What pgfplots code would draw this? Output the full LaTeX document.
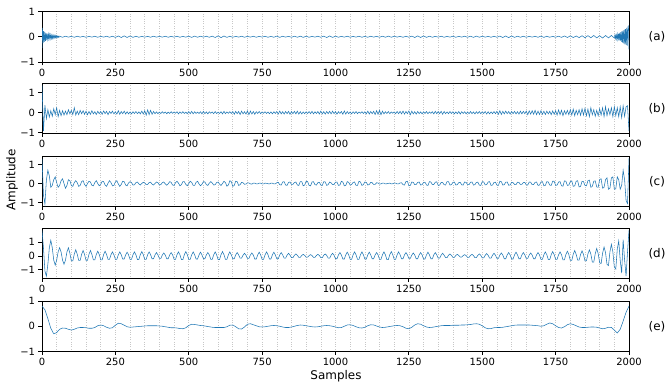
\documentclass[border=0pt]{standalone}
\usepackage{fontspec}
\setmainfont{DejaVu Sans}
\usepackage{pgfplots}
\usepackage{pgfplotstable}
\pgfplotsset{compat=1.18}
\definecolor{mplblue}{HTML}{1F77B4}

\pgfplotsset{
  sig/.style={mplblue, line width=0.55bp},
  panel/.style={
    scale only axis, width=587bp, height=50.5bp,
    xmin=0, xmax=2000,
    xtick={0,250,500,750,1000,1250,1500,1750,2000},
    xticklabels={0,250,500,750,1000,1250,1500,1750,2000},
    minor xtick={0,50,...,2000},
    xminorgrids,
    minor grid style={dotted, black!22, line width=0.6bp},
    ytick={-1,0,1}, yticklabels={−1,0,1},
    axis line style={line width=0.8bp},
    major tick style={black, line width=0.8bp},
    major tick length=3.5bp, minor tick length=0bp,
    tick align=outside, tick pos=left,
    tick label style={font=\fontsize{10}{12}\selectfont},
    no markers,
    anchor=south west,
  }
}

% ---------- panel (a) ----------
\pgfplotstableread[header=false,row sep=\\]{
-0.45\\0.35\\-0.25\\0.22\\-0.2\\0.18\\-0.16\\0.14\\-0.13\\0.12\\-0.11\\0.1\\-0.09\\0.09\\-0.08\\0.08\\-0.07\\0.07\\-0.06\\0.06\\-0.05\\0.05\\-0.05\\0.04\\-0.04\\0.04\\-0.03\\0.03\\-0.02\\0.02\\-0.02\\
}\tabAa
\pgfplotstableread[header=false,row sep=\\]{
0.02\\-0.02\\0.02\\-0.015\\0.015\\-0.02\\0.02\\-0.015\\0.015\\-0.02\\
0.015\\-0.015\\0.02\\-0.02\\0.015\\-0.015\\0.02\\-0.02\\0.02\\-0.025\\
0.03\\-0.03\\0.035\\-0.03\\0.03\\-0.025\\0.02\\-0.02\\0.015\\-0.015\\
0.015\\-0.02\\0.02\\-0.015\\0.015\\-0.015\\0.02\\-0.02\\0.015\\-0.015\\
0.02\\-0.02\\0.015\\-0.015\\0.02\\-0.025\\0.025\\-0.02\\0.02\\-0.015\\
0.02\\-0.02\\0.025\\-0.03\\0.035\\-0.035\\0.03\\-0.025\\0.02\\-0.02\\
0.015\\-0.015\\0.02\\-0.02\\0.015\\-0.015\\0.02\\-0.02\\0.015\\-0.015\\
0.02\\-0.02\\0.015\\-0.02\\0.025\\-0.025\\0.02\\-0.015\\0.015\\-0.02\\
0.02\\-0.02\\0.025\\-0.025\\0.02\\-0.02\\0.015\\-0.015\\0.02\\-0.02\\
0.025\\-0.03\\0.03\\-0.025\\0.02\\-0.02\\0.015\\-0.015\\0.02\\-0.02\\
0.015\\-0.015\\0.02\\-0.02\\0.015\\-0.02\\0.02\\-0.015\\0.015\\-0.02\\
0.02\\-0.02\\0.025\\-0.02\\0.02\\-0.015\\0.015\\-0.02\\0.02\\-0.02\\
0.025\\-0.03\\0.035\\-0.03\\0.03\\-0.025\\0.02\\-0.02\\0.015\\-0.015\\
0.02\\-0.02\\0.015\\-0.015\\0.02\\-0.02\\0.015\\-0.015\\0.02\\-0.02\\
0.02\\-0.025\\0.025\\-0.02\\0.02\\-0.015\\0.015\\-0.02\\0.02\\-0.02\\
0.025\\-0.03\\0.03\\-0.035\\0.03\\-0.025\\0.02\\-0.02\\0.02\\-0.02\\
0.015\\-0.015\\0.02\\-0.02\\0.025\\-0.025\\0.02\\-0.02\\0.015\\-0.02\\
0.02\\-0.025\\0.03\\-0.03\\0.035\\-0.03\\0.03\\-0.035\\0.04\\-0.04\\
0.045\\-0.04\\0.05\\-0.045\\0.04\\-0.05\\0.05\\-0.045\\0.05\\-0.05\\
}\tabAb
\pgfplotstableread[header=false,row sep=\\]{
-0.05\\0.06\\-0.07\\0.08\\-0.09\\0.1\\-0.11\\0.12\\-0.13\\0.15\\-0.16\\0.18\\-0.2\\0.22\\-0.23\\0.25\\-0.26\\0.28\\-0.3\\0.3\\-0.32\\0.35\\-0.35\\0.38\\0.42\\-0.5\\
}\tabAc

% ---------- panel (b) ----------
\pgfplotstableread[header=false,row sep=\\]{
1.38\\-0.93\\0.38\\-0.3\\0.15\\-0.22\\0.1\\-0.18\\0.2\\-0.1\\
0.25\\-0.2\\0.12\\-0.15\\0.1\\-0.12\\0.08\\-0.1\\0.15\\-0.06\\
0.12\\-0.1\\0.25\\-0.12\\0.08\\-0.1\\0.12\\-0.05\\0.1\\-0.08\\
0.08\\-0.1\\0.06\\-0.08\\0.1\\-0.06\\0.05\\-0.09\\0.07\\-0.05\\
0.06\\-0.08\\0.09\\-0.05\\0.07\\-0.1\\0.06\\-0.04\\0.08\\-0.06\\
0.05\\-0.07\\0.1\\-0.08\\0.06\\-0.05\\0.08\\-0.07\\0.05\\-0.06\\
0.04\\-0.06\\0.05\\-0.04\\0.06\\-0.05\\0.04\\-0.06\\0.08\\-0.07\\
0.1\\-0.12\\0.14\\-0.1\\0.12\\-0.08\\0.06\\-0.05\\0.04\\-0.05\\
0.03\\-0.04\\0.05\\-0.03\\0.04\\-0.05\\0.03\\-0.04\\0.05\\-0.03\\
0.04\\-0.03\\0.05\\-0.06\\0.04\\-0.03\\0.05\\-0.04\\0.03\\-0.05\\
0.06\\-0.05\\0.07\\-0.06\\0.05\\-0.04\\0.03\\-0.04\\0.05\\-0.06\\
0.07\\-0.05\\0.04\\-0.06\\0.05\\-0.03\\0.04\\-0.05\\0.06\\-0.04\\
0.03\\-0.04\\0.05\\-0.06\\0.07\\-0.05\\0.04\\-0.03\\0.05\\-0.04\\
0.06\\-0.08\\0.07\\-0.05\\0.06\\-0.09\\0.08\\-0.06\\0.05\\-0.07\\
0.09\\-0.1\\0.08\\-0.07\\0.06\\-0.08\\0.05\\-0.04\\0.06\\-0.05\\
0.04\\-0.03\\0.05\\-0.04\\0.03\\-0.05\\0.04\\-0.06\\0.05\\-0.04\\
0.06\\-0.07\\0.08\\-0.06\\0.05\\-0.07\\0.06\\-0.05\\0.07\\-0.08\\
0.06\\-0.05\\0.07\\-0.06\\0.08\\-0.07\\0.05\\-0.06\\0.04\\-0.05\\
0.05\\-0.04\\0.06\\-0.05\\0.07\\-0.06\\0.05\\-0.04\\0.06\\-0.07\\
0.08\\-0.06\\0.05\\-0.07\\0.06\\-0.05\\0.07\\-0.06\\0.08\\-0.05\\
0.06\\-0.07\\0.05\\-0.04\\0.06\\-0.08\\0.09\\-0.07\\0.06\\-0.05\\
0.04\\-0.06\\0.05\\-0.04\\0.06\\-0.05\\0.04\\-0.03\\0.05\\-0.04\\
0.05\\-0.06\\0.08\\-0.07\\0.06\\-0.05\\0.07\\-0.09\\0.1\\-0.08\\
0.12\\-0.1\\0.08\\-0.06\\0.05\\-0.04\\0.06\\-0.05\\0.04\\-0.03\\
0.04\\-0.05\\0.06\\-0.05\\0.07\\-0.06\\0.08\\-0.07\\0.06\\-0.05\\
0.09\\-0.1\\0.08\\-0.06\\0.05\\-0.07\\0.06\\-0.05\\0.04\\-0.06\\
0.05\\-0.04\\0.06\\-0.05\\0.04\\-0.03\\0.05\\-0.06\\0.07\\-0.05\\
0.06\\-0.05\\0.07\\-0.08\\0.06\\-0.05\\0.04\\-0.05\\0.06\\-0.04\\
0.05\\-0.06\\0.04\\-0.05\\0.06\\-0.07\\0.05\\-0.04\\0.05\\-0.06\\
0.04\\-0.05\\0.06\\-0.05\\0.04\\-0.06\\0.05\\-0.04\\0.06\\-0.05\\
0.05\\-0.04\\0.06\\-0.07\\0.05\\-0.06\\0.04\\-0.05\\0.06\\-0.05\\
0.07\\-0.08\\0.1\\-0.09\\0.07\\-0.06\\0.08\\-0.05\\0.06\\-0.07\\
0.06\\-0.05\\0.07\\-0.06\\0.05\\-0.07\\0.08\\-0.06\\0.07\\-0.05\\
0.08\\-0.1\\0.09\\-0.07\\0.1\\-0.08\\0.12\\-0.1\\0.08\\-0.09\\
0.1\\-0.08\\0.07\\-0.09\\0.08\\-0.06\\0.07\\-0.1\\0.09\\-0.08\\
0.1\\-0.12\\0.14\\-0.1\\0.12\\-0.15\\0.1\\-0.08\\0.12\\-0.1\\
0.15\\-0.12\\0.18\\-0.15\\0.12\\-0.1\\0.15\\-0.13\\0.2\\-0.12\\
0.22\\-0.15\\0.18\\-0.2\\0.25\\-0.1\\0.15\\-0.18\\0.12\\-0.15\\
0.2\\-0.12\\0.25\\-0.2\\0.3\\-0.15\\0.2\\-0.1\\0.25\\-0.2\\
0.3\\-0.15\\0.25\\-0.2\\0.3\\-0.25\\0.35\\-0.18\\0.3\\0.35\\
-0.93\\
}\tabB

% ---------- panel (c) ----------
\pgfplotstableread[header=false,row sep=\\]{
1.3\\-0.6\\-1.09\\0.2\\0.7\\0.4\\-0.2\\-0.1\\0.2\\0.35\\0.05\\-0.2\\-0.1\\0.15\\0.25\\0.0\\-0.25\\-0.1\\0.2\\0.15\\
-0.1\\-0.15\\0.05\\0.15\\0.05\\-0.15\\-0.1\\0.1\\0.15\\-0.05\\-0.15\\0.0\\0.12\\0.08\\-0.1\\-0.12\\0.05\\0.15\\0.0\\-0.12\\
-0.05\\0.12\\0.1\\-0.08\\-0.15\\0.02\\0.15\\0.05\\-0.12\\-0.1\\0.08\\0.15\\-0.02\\-0.15\\-0.05\\0.12\\0.1\\-0.08\\-0.12\\0.03\\
0.1\\0.05\\-0.08\\-0.07\\0.05\\0.08\\-0.02\\-0.08\\0.0\\0.07\\0.03\\-0.06\\-0.05\\0.05\\0.07\\-0.03\\-0.08\\0.0\\0.08\\0.04\\
-0.07\\-0.06\\0.05\\0.08\\-0.02\\-0.09\\-0.02\\0.1\\0.06\\-0.08\\-0.1\\0.04\\0.12\\0.02\\-0.12\\-0.06\\0.1\\0.1\\-0.05\\-0.12\\
0.0\\0.12\\0.06\\-0.1\\-0.1\\0.06\\0.12\\-0.02\\-0.12\\-0.04\\0.1\\0.08\\-0.06\\-0.1\\0.02\\0.1\\0.03\\-0.08\\-0.06\\0.05\\
0.08\\-0.03\\-0.1\\0.0\\0.12\\0.05\\-0.14\\-0.08\\0.15\\0.1\\-0.15\\-0.1\\0.12\\0.1\\-0.1\\-0.06\\0.06\\0.04\\-0.04\\-0.03\\
0.03\\0.03\\-0.02\\-0.03\\0.02\\0.02\\-0.02\\-0.02\\0.02\\0.02\\-0.02\\-0.02\\0.02\\0.01\\-0.01\\-0.02\\0.02\\0.02\\-0.02\\-0.02\\
0.04\\0.06\\-0.06\\-0.08\\0.08\\0.1\\-0.08\\-0.1\\0.06\\0.08\\-0.05\\-0.04\\0.05\\0.08\\-0.08\\-0.1\\0.1\\0.1\\-0.12\\-0.08\\
0.12\\0.1\\-0.1\\-0.12\\0.08\\0.1\\-0.06\\-0.08\\0.05\\0.06\\-0.08\\-0.1\\0.1\\0.08\\-0.1\\-0.06\\0.08\\0.04\\-0.06\\-0.05\\
0.07\\0.08\\-0.1\\-0.08\\0.12\\0.08\\-0.12\\-0.1\\0.1\\0.06\\-0.08\\-0.05\\0.06\\0.08\\-0.1\\-0.1\\0.12\\0.08\\-0.1\\-0.06\\
0.08\\0.06\\-0.08\\-0.05\\0.06\\0.04\\-0.05\\-0.04\\0.04\\0.03\\-0.03\\-0.02\\0.02\\0.02\\-0.02\\-0.01\\0.01\\0.02\\-0.02\\-0.01\\
0.02\\0.02\\-0.02\\-0.02\\0.03\\0.04\\-0.06\\-0.08\\0.1\\0.12\\-0.12\\-0.1\\0.08\\0.06\\-0.06\\-0.05\\0.06\\0.08\\-0.08\\-0.06\\
0.05\\0.07\\-0.08\\-0.1\\0.1\\0.08\\-0.06\\-0.05\\0.07\\0.09\\-0.1\\-0.08\\0.06\\0.05\\-0.06\\-0.08\\0.1\\0.1\\-0.08\\-0.06\\
0.06\\0.08\\-0.08\\-0.06\\0.05\\0.06\\-0.07\\-0.08\\0.08\\0.06\\-0.05\\-0.06\\0.07\\0.08\\-0.08\\-0.06\\0.06\\0.07\\-0.08\\-0.1\\
0.1\\0.08\\-0.07\\-0.06\\0.08\\0.1\\-0.1\\-0.08\\0.06\\0.07\\-0.08\\-0.1\\0.12\\0.1\\-0.08\\-0.06\\0.07\\0.08\\-0.09\\-0.08\\
0.06\\0.05\\-0.05\\-0.06\\0.07\\0.06\\-0.05\\-0.04\\0.05\\0.06\\-0.07\\-0.08\\0.08\\0.07\\-0.06\\-0.05\\0.06\\0.08\\-0.1\\-0.08\\
0.08\\0.1\\-0.12\\-0.1\\0.1\\0.08\\-0.08\\-0.1\\0.12\\0.12\\-0.1\\-0.08\\0.08\\0.1\\-0.12\\-0.14\\0.14\\0.12\\-0.1\\-0.08\\
0.1\\0.14\\-0.15\\-0.12\\0.12\\0.15\\-0.18\\-0.15\\0.12\\0.1\\-0.1\\-0.12\\0.15\\0.18\\-0.2\\-0.15\\0.12\\0.14\\-0.18\\-0.2\\
0.22\\0.25\\-0.25\\-0.2\\0.2\\0.3\\-0.3\\-0.25\\0.3\\0.35\\-0.3\\-0.28\\0.35\\0.2\\-0.3\\-0.1\\0.7\\0.2\\-0.9\\-1.05\\
1.33\\
}\tabC

% ---------- panel (d) ----------
\pgfplotstableread[header=false,row sep=\\]{
1.87\\0.6\\-1.1\\-1.47\\-0.6\\0.6\\1.15\\0.6\\-0.3\\-0.67\\-0.3\\0.3\\0.6\\0.3\\-0.3\\-0.6\\-0.3\\0.3\\0.6\\0.2\\
-0.36\\-0.36\\0.14\\0.45\\0.14\\ -0.32\\-0.32\\0.12\\0.4\\0.12\\ -0.32\\-0.32\\0.12\\0.4\\0.12\\
-0.28\\-0.28\\0.11\\0.35\\0.11\\ -0.28\\-0.28\\0.11\\0.35\\0.11\\ -0.24\\-0.24\\0.09\\0.3\\0.09\\
-0.24\\-0.24\\0.09\\0.3\\0.09\\ -0.22\\-0.22\\0.08\\0.28\\0.08\\ -0.24\\-0.24\\0.09\\0.3\\0.09\\
-0.26\\-0.26\\0.1\\0.32\\0.1\\ -0.24\\-0.24\\0.09\\0.3\\0.09\\ -0.2\\-0.2\\0.08\\0.25\\0.08\\
-0.18\\-0.18\\0.07\\0.22\\0.07\\ -0.2\\-0.2\\0.08\\0.25\\0.08\\ -0.24\\-0.24\\0.09\\0.3\\0.09\\
-0.26\\-0.26\\0.1\\0.32\\0.1\\
-0.24\\-0.24\\0.09\\0.3\\0.09\\ -0.22\\-0.22\\0.08\\0.28\\0.08\\ -0.2\\-0.2\\0.08\\0.25\\0.08\\
-0.24\\-0.24\\0.09\\0.3\\0.09\\ -0.26\\-0.26\\0.1\\0.32\\0.1\\ -0.24\\-0.24\\0.09\\0.3\\0.09\\
-0.2\\-0.2\\0.08\\0.25\\0.08\\ -0.16\\-0.16\\0.06\\0.2\\0.06\\ -0.18\\-0.18\\0.07\\0.22\\0.07\\
-0.22\\-0.22\\0.08\\0.28\\0.08\\
-0.24\\-0.24\\0.09\\0.3\\0.09\\ -0.22\\-0.22\\0.08\\0.28\\0.08\\ -0.2\\-0.2\\0.08\\0.25\\0.08\\
-0.16\\-0.16\\0.06\\0.2\\0.06\\ -0.12\\-0.12\\0.05\\0.15\\0.05\\ -0.1\\-0.1\\0.04\\0.12\\0.04\\
-0.08\\-0.08\\0.03\\0.1\\0.03\\ -0.1\\-0.1\\0.04\\0.12\\0.04\\ -0.12\\-0.12\\0.05\\0.15\\0.05\\
-0.16\\-0.16\\0.06\\0.2\\0.06\\
-0.2\\-0.2\\0.08\\0.25\\0.08\\ -0.22\\-0.22\\0.08\\0.28\\0.08\\ -0.24\\-0.24\\0.09\\0.3\\0.09\\
-0.24\\-0.24\\0.09\\0.3\\0.09\\ -0.22\\-0.22\\0.08\\0.28\\0.08\\ -0.2\\-0.2\\0.08\\0.25\\0.08\\
-0.24\\-0.24\\0.09\\0.3\\0.09\\ -0.26\\-0.26\\0.1\\0.32\\0.1\\ -0.24\\-0.24\\0.09\\0.3\\0.09\\
-0.2\\-0.2\\0.08\\0.25\\0.08\\
-0.18\\-0.18\\0.07\\0.22\\0.07\\ -0.2\\-0.2\\0.08\\0.25\\0.08\\ -0.22\\-0.22\\0.08\\0.28\\0.08\\
-0.2\\-0.2\\0.08\\0.25\\0.08\\ -0.16\\-0.16\\0.06\\0.2\\0.06\\ -0.12\\-0.12\\0.05\\0.15\\0.05\\
-0.1\\-0.1\\0.04\\0.12\\0.04\\ -0.08\\-0.08\\0.03\\0.1\\0.03\\ -0.1\\-0.1\\0.04\\0.12\\0.04\\
-0.12\\-0.12\\0.05\\0.15\\0.05\\
-0.14\\-0.14\\0.05\\0.18\\0.05\\ -0.16\\-0.16\\0.06\\0.2\\0.06\\ -0.18\\-0.18\\0.07\\0.22\\0.07\\
-0.2\\-0.2\\0.08\\0.25\\0.08\\ -0.22\\-0.22\\0.08\\0.28\\0.08\\ -0.2\\-0.2\\0.08\\0.25\\0.08\\
-0.18\\-0.18\\0.07\\0.22\\0.07\\ -0.2\\-0.2\\0.08\\0.25\\0.08\\ -0.24\\-0.24\\0.09\\0.3\\0.09\\
-0.26\\-0.26\\0.1\\0.32\\0.1\\
-0.24\\-0.24\\0.09\\0.3\\0.09\\ -0.28\\-0.28\\0.11\\0.35\\0.11\\ -0.32\\-0.32\\0.12\\0.4\\0.12\\
-0.3\\-0.3\\0.11\\0.38\\0.11\\ -0.36\\-0.36\\0.14\\0.45\\0.14\\ -0.44\\-0.44\\0.17\\0.55\\0.17\\
-0.5\\-0.55\\0.2\\0.65\\0.25\\-0.6\\-0.7\\0.3\\0.85\\0.3\\-0.8\\-0.95\\0.5\\1.1\\-0.3\\-1.25\\1.2\\-0.3\\-1.47\\0.3\\
1.87\\
}\tabD

% ---------- panel (e) ----------
\pgfplotstableread[header=false,row sep=\\]{
0.8\\0.65\\0.3\\-0.08\\-0.3\\-0.25\\-0.12\\-0.07\\-0.08\\-0.12\\
-0.15\\-0.12\\-0.07\\-0.05\\-0.05\\-0.06\\-0.08\\-0.08\\-0.05\\0.02\\
0.05\\0.02\\-0.04\\-0.08\\-0.06\\0.04\\0.12\\0.1\\0.04\\-0.02\\
-0.04\\-0.03\\-0.02\\-0.01\\0.0\\0.01\\0.02\\0.02\\0.02\\0.02\\
0.01\\0.0\\-0.02\\-0.04\\-0.06\\-0.06\\-0.07\\-0.09\\-0.1\\-0.06\\
0.03\\0.08\\0.07\\0.05\\0.03\\0.02\\0.0\\-0.02\\-0.04\\-0.05\\
-0.05\\-0.05\\-0.05\\-0.02\\0.04\\0.05\\-0.02\\-0.1\\-0.11\\-0.03\\
0.08\\0.1\\0.06\\0.02\\-0.02\\-0.03\\-0.02\\0.0\\0.02\\0.03\\
0.02\\0.0\\-0.03\\-0.05\\-0.05\\-0.03\\0.0\\0.03\\0.05\\0.04\\
0.02\\0.0\\-0.02\\-0.03\\-0.02\\0.0\\0.02\\0.03\\0.02\\0.0\\
-0.03\\-0.06\\-0.05\\0.0\\0.05\\0.06\\0.03\\-0.02\\-0.06\\-0.07\\
-0.04\\0.02\\0.06\\0.05\\0.01\\-0.03\\-0.05\\-0.04\\-0.02\\0.0\\
0.02\\0.03\\0.02\\-0.02\\-0.08\\-0.1\\-0.04\\0.05\\0.1\\0.08\\
0.02\\-0.03\\-0.05\\-0.04\\-0.02\\0.0\\0.02\\0.03\\0.03\\0.03\\
0.04\\0.04\\0.04\\0.05\\0.05\\0.06\\0.07\\0.09\\0.1\\0.08\\
0.02\\-0.06\\-0.1\\-0.09\\-0.06\\-0.05\\-0.05\\-0.04\\-0.02\\0.0\\
0.02\\0.04\\0.05\\0.05\\0.05\\0.05\\0.05\\0.04\\0.03\\0.02\\
0.0\\0.02\\0.08\\0.13\\0.1\\0.02\\-0.05\\-0.07\\-0.02\\0.06\\
0.1\\0.07\\0.02\\-0.03\\-0.05\\-0.05\\-0.04\\-0.03\\-0.03\\-0.04\\
-0.07\\-0.1\\-0.08\\-0.04\\-0.05\\-0.15\\-0.27\\-0.12\\0.2\\0.55\\
0.8\\
}\tabE

\begin{document}
\begin{tikzpicture}
\begin{axis}[panel, at={(42bp,323bp)}, ymin=-1, ymax=1]
\addplot[sig] table[x expr=\coordindex*2, y index=0]{\tabAa};
\addplot[sig] table[x expr=60+\coordindex*10, y index=0]{\tabAb};
\addplot[sig] table[x expr=1950+\coordindex*2, y index=0]{\tabAc};
\end{axis}
\begin{axis}[panel, at={(42bp,251.5bp)}, ymin=-1.05, ymax=1.5]
\addplot[sig] table[x expr=\coordindex*5, y index=0]{\tabB};
\end{axis}
\begin{axis}[panel, at={(42bp,178.5bp)}, ymin=-1.21, ymax=1.45]
\addplot[sig] table[x expr=\coordindex*5, y index=0]{\tabC};
\end{axis}
\begin{axis}[panel, at={(42bp,106.5bp)}, ymin=-1.64, ymax=2.04]
\addplot[sig] table[x expr=\coordindex*5, y index=0]{\tabD};
\end{axis}
\begin{axis}[panel, at={(42bp,33.5bp)}, ymin=-1, ymax=1]
\addplot[sig] table[x expr=\coordindex*10, y index=0]{\tabE};
\end{axis}
\begin{scope}[every node/.style={font=\fontsize{12}{14}\selectfont}]
\node at (657bp,348bp) {(a)};
\node at (657bp,276bp) {(b)};
\node at (657bp,203bp) {(c)};
\node at (657bp,131bp) {(d)};
\node at (657bp,58bp) {(e)};
\node[rotate=90] at (12bp,205bp) {Amplitude};
\node at (336bp,9bp) {Samples};
\end{scope}
\pgfresetboundingbox
\useasboundingbox (0,0) rectangle (668bp,385bp);
\end{tikzpicture}
\end{document}
